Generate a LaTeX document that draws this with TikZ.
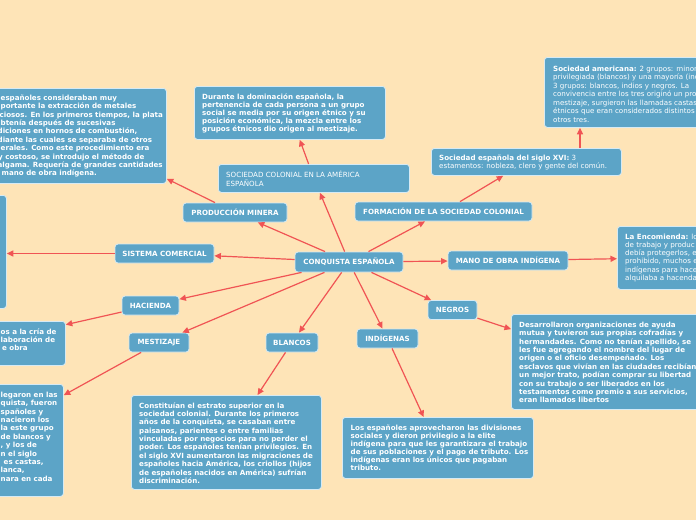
\documentclass[tikz,border=0pt]{standalone}
\usepackage{fontspec}
\setmainfont{DejaVu Sans}
\usetikzlibrary{arrows.meta,calc}
\definecolor{bg}{RGB}{254,228,183}
\definecolor{boxblue}{RGB}{92,164,199}
\definecolor{boxline}{RGB}{214,234,244}
\definecolor{arrc}{RGB}{240,84,84}
\newcommand{\fl}{\rule{0pt}{6pt}}
\tikzset{
 basebox/.style={draw=boxline, line width=0.8pt, fill=boxblue, rounded corners=3pt},
 lbl/.style={basebox, text=white, font=\bfseries\fontsize{7.1}{8.4}\selectfont, inner sep=0pt, minimum height=19pt},
 dbox/.style={basebox, inner sep=0pt, anchor=north west},
 dtext/.style={text=white, font=\bfseries\fontsize{7.1}{8.4}\selectfont, align=left, inner sep=0pt, anchor=north west},
 arr/.style={draw=arrc, line width=1.2pt, -{Triangle[length=6.5pt,width=6pt]}},
}
\begin{document}
\begin{tikzpicture}[x=1pt,y=-1pt]
\fill[bg] (0,0) rectangle (696,520);
\useasboundingbox (0,0) rectangle (696,520);
\clip (0,0) rectangle (696,520);

% central and label nodes
\node[lbl, minimum width=108pt, minimum height=20pt] (conq) at (349,262) {CONQUISTA ESPAÑOLA};
\node[lbl, minimum width=104pt] (prod) at (235,212.5) {PRODUCCIÓN MINERA};
\node[lbl, minimum width=177pt] (form) at (443.5,211.5) {FORMACIÓN DE LA SOCIEDAD COLONIAL};
\node[lbl, minimum width=99pt] (sist) at (164.5,253.5) {SISTEMA COMERCIAL};
\node[lbl, minimum width=57pt] (hac) at (150.5,305.5) {HACIENDA};
\node[lbl, minimum width=60pt] (mest) at (159,342.5) {MESTIZAJE};
\node[lbl, minimum width=52pt] (blan) at (292,342.5) {BLANCOS};
\node[lbl, minimum width=61pt] (indi) at (387.5,338.5) {INDÍGENAS};
\node[lbl, minimum width=49pt] (negr) at (452.5,310) {NEGROS};
\node[lbl, minimum width=120pt] (mano) at (508,260.5) {MANO DE OBRA INDÍGENA};

% detail boxes
\node[dbox, minimum width=191pt, minimum height=28pt] (soc) at (218,164) {};
\node[dtext, font=\fontsize{7.1}{9}\selectfont] (soct) at (226,171) {\fl SOCIEDAD COLONIAL EN LA AMÉRICA\\ESPAÑOLA};

\node[dbox, minimum width=173pt, minimum height=95pt] (tl) at (-7,88) {};
\node[dtext] (tlt) at (0.5,94) {\fl españoles consideraban muy\\
portante la extracción de metales\\
\hspace*{-1pt}ciosos. En los primeros tiempos, la plata\\
btenía después de sucesivas\\
\hspace*{-3pt}diciones en hornos de combustión,\\
\hspace*{-3pt}diante las cuales se separaba de otros\\
erales. Como este procedimiento era\\
\hspace*{-2.5pt}y costoso, se introdujo el método de\\
\hspace*{-3pt}algama. Requería de grandes cantidades\\
\hspace*{1pt}mano de obra indígena.};

\node[dbox, minimum width=191pt, minimum height=53pt] (tc) at (194,86) {};
\node[dtext, font=\bfseries\fontsize{7.1}{8}\selectfont] (tct) at (202,93) {\fl Durante la dominación española, la\\
pertenencia de cada persona a un grupo\\
social se media por su origen étnico y su\\
posición económica, la mezcla entre los\\
grupos étnicos dio origen al mestizaje.};

\node[dbox, minimum width=200pt, minimum height=70pt] (tr) at (544,57) {};
\node[dtext, font=\fontsize{7.1}{8.5}\selectfont] (trt) at (553,65) {\fl\textbf{Sociedad americana:} 2 grupos: minori\\
privilegiada (blancos) y una mayoría (ind\\
3 grupos: blancos, indios y negros. La\\
convivencia entre los tres originó un pro\\
mestizaje, surgieron las llamadas castas,\\
étnicos que eran considerados distintos d\\
otros tres.};

\node[dbox, minimum width=190pt, minimum height=27pt] (se) at (431,148) {};
\node[dtext, font=\fontsize{7.1}{8}\selectfont] (set) at (439,154.5) {\fl\textbf{Sociedad española del siglo XVI:} 3\\
estamentos: nobleza, clero y gente del común.};

\node[dbox, minimum width=100pt, minimum height=63pt] (enc) at (617,226) {};
\node[dtext, font=\fontsize{7.1}{8.2}\selectfont] (enct) at (625,233) {\fl\textbf{La Encomienda:} lo\\
de trabajo y produc\\
debía protegerlos, e\\
prohibido, muchos e\\
indígenas para hace\\
alquilaba a hacendad};

\node[dbox, minimum width=106pt, minimum height=113pt] (lbox) at (-100,195) {};

\node[dbox, minimum width=165pt, minimum height=44pt] (hbox) at (-100,321) {};
\node[dtext, font=\bfseries\fontsize{7.1}{8.3}\selectfont] (hboxt) at (0.5,328) {\fl os a la cría de\\
laboración de\\
\hspace*{1.5pt}e obra};

\node[dbox, minimum width=163pt, minimum height=112pt] (mbox) at (-100,384) {};
\node[dtext] (mboxt) at (0.5,391) {\fl legaron en las\\
quista, fueron\\
spañoles y\\
nacieron los\\
la este grupo\\
de blancos y\\
, y los de\\
n el siglo\\
\hspace*{3pt}es castas,\\
lanca,\\
nara en cada};

\node[dbox, minimum width=190pt, minimum height=94pt] (bbox) at (131,395) {};
\node[dtext, font=\bfseries\fontsize{7.1}{8.35}\selectfont] (bboxt) at (139,402) {\fl Constituían el estrato superior en la\\
sociedad colonial. Durante los primeros\\
años de la conquista, se casaban entre\\
paisanos, parientes o entre familias\\
vinculadas por negocios para no perder el\\
poder. Los españoles tenían privilegios. En\\
el siglo XVI aumentaron las migraciones de\\
españoles hacia América, los criollos (hijos\\
de españoles nacidos en América) sufrían\\
discriminación.};

\node[dbox, minimum width=191pt, minimum height=61pt] (ibox) at (342,417) {};
\node[dtext, font=\bfseries\fontsize{7.1}{8}\selectfont] (iboxt) at (350.5,424) {\fl Los españoles aprovecharon las divisiones\\
sociales y dieron privilegio a la elite\\
indígena para que les garantizara el trabajo\\
de sus poblaciones y el pago de tributo. Los\\
indígenas eran los únicos que pagaban\\
tributo.};

\node[dbox, minimum width=200pt, minimum height=95pt] (nbox) at (511,314) {};
\node[dtext] (nboxt) at (519,321) {\fl Desarrollaron organizaciones de ayuda\\
mutua y tuvieron sus propias cofradías y\\
hermandades. Como no tenían apellido, se\\
les fue agregando el nombre del lugar de\\
origen o el oficio desempeñado. Los\\
esclavos que vivían en las ciudades recibían\\
un mejor trato, podían comprar su libertad\\
con su trabajo o ser liberados en los\\
testamentos como premio a sus servicios,\\
eran llamados libertos};

% connectors
\draw[arr] (conq) -- (prod);
\draw[arr] (conq) -- (soc);
\draw[arr] (conq) -- (form);
\draw[arr] (conq) -- (sist);
\draw[arr] (conq) -- (hac);
\draw[arr] (conq) -- (mest);
\draw[arr] (conq) -- (blan);
\draw[arr] (conq) -- (indi);
\draw[arr] (conq) -- (negr);
\draw[arr] (conq) -- (mano);
\draw[arr] (prod) -- (tl);
\draw[arr] (soc) -- (tc);
\draw[arr] (form) -- (se);
\coordinate (sex) at (580,0);
\draw[arr] (se.north -| sex) -- (tr.south -| sex);
\draw[arr] (sist) -- (sist -| lbox.east);
\draw[arr] (hac) -- (hbox);
\draw[arr] (mest) -- (mbox);
\draw[arr] (blan) -- (bbox);
\draw[arr] (indi) -- (ibox);
\draw[arr] (negr) -- (nbox);
\draw[arr] (mano) -- (enc);
\end{tikzpicture}
\end{document}
